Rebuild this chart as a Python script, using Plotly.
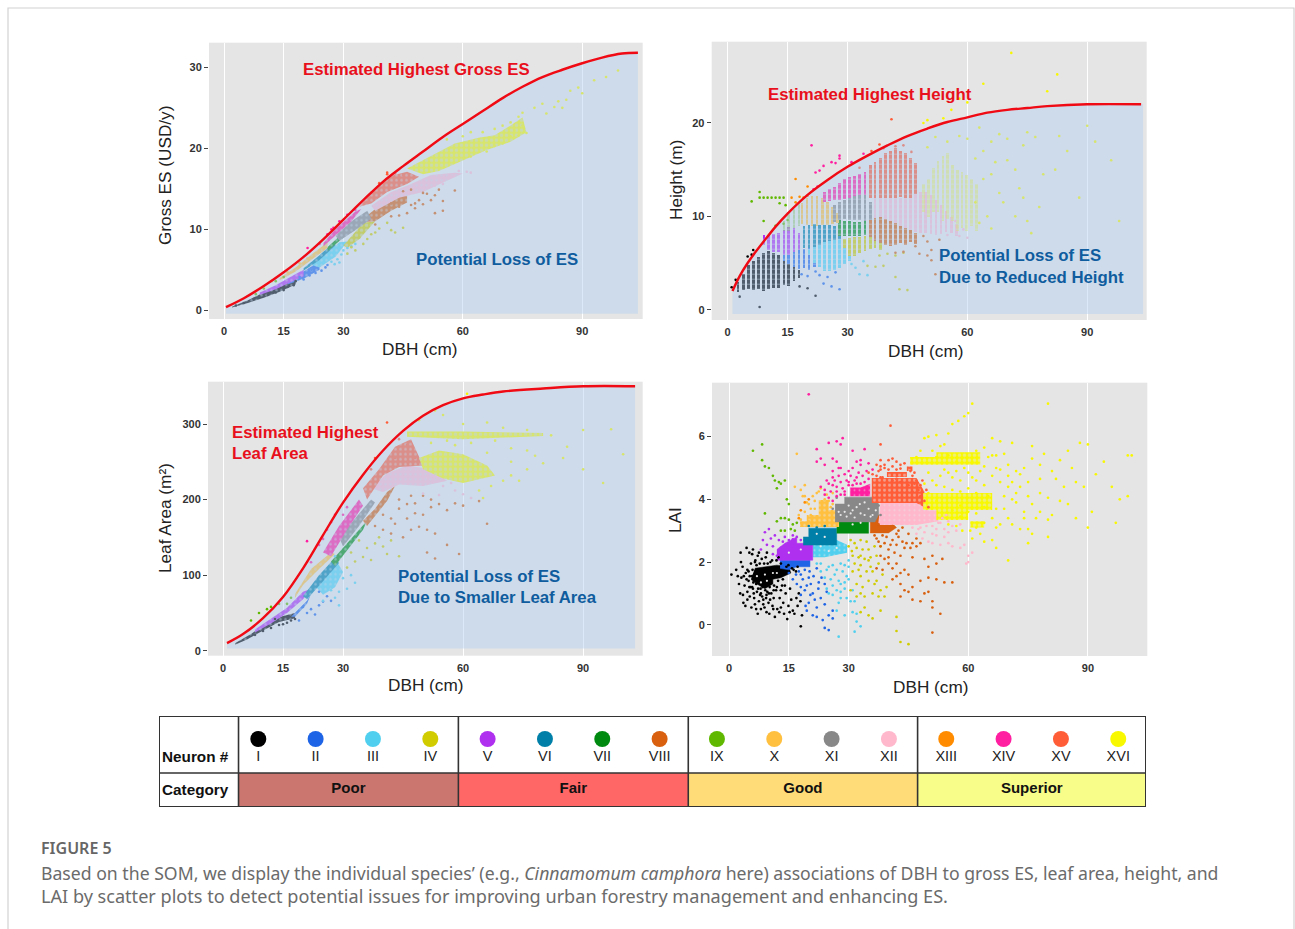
import plotly.graph_objects as go

NEURONS = ["I","II","III","IV","V","VI","VII","VIII","IX","X","XI","XII","XIII","XIV","XV","XVI"]
NEURON_COLORS = ["#000000","#1e64e6","#50d0ee","#d0cc00","#b030f0","#0080a8","#008a10","#d8600f",
                 "#60b800","#ffc040","#888888","#ffb8cc","#ff8c00","#ff1fa0","#ff5c38","#f8f800"]
CATEGORIES = ["Poor","Fair","Good","Superior"]
CATEGORY_COLORS = ["#cb7770","#ff6666","#ffdc78","#f8fc88"]
DBH_TICKS = [0,15,30,60,90]

# ---------- highest-value curves ----------
es_curve_x = [0.5,5,10,15,20,25,30,35,40,45,50,55,60,65,70,75,80,85,90,95,100,104]
es_curve_y = [0.4,1.5,3.0,4.7,6.6,8.8,11.2,13.6,15.9,17.8,19.6,21.4,23.0,24.6,26.2,27.6,28.8,29.7,30.5,31.2,31.7,31.8]
h_curve_x = [1.2,3,5,7,9,12,15,20,25,30,35,40,45,50,55,60,65,70,75,80,90,103.5]
h_curve_y = [2.0,3.6,5.0,6.2,7.3,8.9,10.3,12.3,13.9,15.3,16.5,17.6,18.6,19.4,20.1,20.6,21.1,21.4,21.6,21.8,22.0,22.0]
la_curve_x = [1,5,10,15,20,25,30,35,40,45,50,55,60,65,70,80,90,103]
la_curve_y = [10,22,43,71,109,153,196,233,265,291,311,325,334,339,343,347,350,350]

# ---------- Gross ES panel ----------
es_core_I = [(2,.45),(6,1.25),(10,2.2),(14,3.0),(18,4.0),(18,3.2),(14,2.3),(10,1.55),(6,.9),(2,.35)]
es_core_V = [(9,2.2),(13,3.1),(17,4.2),(20,5.0),(20,4.2),(17,3.5),(13,2.6),(9,1.9)]
es_core_II = [(16,3.7),(20,4.8),(24,6.1),(24,5.0),(20,3.9),(16,3.2)]
es_core_III = [(22,5.6),(26,7.2),(29,8.4),(31,8.5),(28,6.6),(24,5.3)]
es_core_VI = [(20,5.2),(24,6.8),(28,8.6),(28,8.0),(24,6.2),(20,4.9)]
es_core_VII = [(26,7.8),(30,9.6),(35,11.6),(35,11),(30,9),(26,7.3)]
es_core_X = [(14,4.0),(18,5.3),(22,6.9),(26,8.4),(26,7.7),(22,6.2),(18,4.8),(14,3.7)]
es_core_XI = [(28,9.2),(32,11.0),(36,12.3),(37,11.3),(33,9.9),(29,8.6)]
es_core_XIV = [(25,8.3),(28,10),(33,12.2),(34.5,12.5),(32,11),(28,9.2),(25,7.9)]
es_core_XV = [(34,12.8),(38,15),(42,16.6),(46,17.1),(49,16.5),(46,15.6),(41,14.6),(37,13.2)]
es_core_XII = [(37,12.9),(42,14.6),(47,15.6),(52,16.7),(58,17.0),(60,16.9),(56,16),(50,14.6),(44,13.9),(38,12.3)]
es_core_VIII = [(35,11.3),(38,12.5),(42,13.9),(46,14.3),(46,13.3),(42,12.3),(38,11),(35,10.9)]
es_core_XVI = [(46,17.5),(52,19),(58,20.6),(64,21.3),(68,21.6),(71,22.5),(75,23.8),(76,22),(72,20.8),(66,19.8),(60,18.5),(54,17.2),(50,16.8)]
es_core_IV = [(30,8),(35,10.8),(38,11),(34,8.8),(31,7.7)]
es_pts_I = [(3,.6),(5,.9),(7.5,1.4),(11,1.9),(13,2.2),(15,2.5),(16,2.9),(17.5,3.1),(18,3.6)]
es_pts_II = [(20,3.8),(21.5,4.3),(23,4.6),(24.5,4.9),(25.5,5.3),(26,5.6),(22,5.0),(19,4.1)]
es_pts_III = [(27,6.0),(28.5,6.3),(29.5,6.9),(31,7.7),(32,7.9),(30,7.4),(27.8,5.7),(29,5.9),(33,8.2)]
es_pts_IV = [(31,7.0),(33,7.4),(35,8.2),(36,8.8),(38,9.6),(39,10.1),(41,10.8),(42,9.9),(37,9.4),(43,9.6),(45,10.2),(32,7.8),(34,9.0)]
es_pts_VIII = [(42,11.6),(44,11.7),(46,12.0),(48,13.2),(50,13.1),(52,13.6),(53,14.2),(55,12.3),(53,12.0),(48,12.6),(51,14.4),(47,14.9),(50,14.5),(55,13.5),(54,14.9),(58,14.8),(42,13.2),(44,12.8),(49,13.6),(47,13.0),(45,14.7),(40,12.0),(38,10.6)]
es_pts_XII = [(50,16.0),(54,16.6),(57,16.6),(59,17.2),(61,17.1),(62,17.0),(55,15.6),(53,15.4),(48,15.1)]
es_pts_XIV = [(21,7.7),(24,8.2),(26,9.4),(27,10),(27.5,10.2),(29,11),(31,11.8),(33,12.4)]
es_pts_XV = [(41,16.8),(41,17),(43,16.9),(45,16.7),(39,15.7),(37,14.5),(36,13.4)]
es_pts_XVI = [(56,21.1),(60,21.5),(62,22),(65,22),(68,22.4),(70,22.8),(72,23.2),(73,22.2),(74,23.9),(75,24.4),(75,22.8),(74,21.6),(72,21.5),(76,21.9),
              (70,20.6),(68,20.3),(66,19.6),(62,19.0),(78,25),(80,25.5),(81,24.3),(83,25.1),(84,25.8),(85,25),(86,26),(87,27.1),(89,27.5),(90,26.8),(93,28.4),(96,28.8),(99,29.6)]
es_pts_X = [(12,3.6),(16,4.7),(19,5.8),(21,6.4),(24,7.4),(10,2.9)]
es_pts_IX = [(8,2.0),(10,2.7),(13,3.6),(15,4.1)]

# ---------- Height panel: DBH columns with low / high height ----------
h_x_I = [2.5,3.8,5.1,6.4,7.6,8.9,10.2,11.4,12.7,14,15.2,16.5,17.8]
h_lo_I = [1.9,2.1,2.2,2.1,2.2,2.0,2.3,2.4,2.4,2.7,2.6,3.1,3.4]
h_hi_I = [3.0,3.9,4.8,5.3,5.7,6.1,6.3,6.1,5.9,5.7,5.3,5.0,4.3]
h_x_II = [14,15.2,16.5,17.8,19,20.3,21.6,22.9]
h_lo_II = [5.2,4.9,4.6,4.4,4.5,4.3,4.6,4.9]
h_hi_II = [5.9,6.0,6.3,6.4,6.5,6.6,6.4,6.0]
h_x_III = [20.3,21.6,22.9,24.1,25.4,26.7,27.9,29.2,30.5]
h_lo_III = [5.9,5.0,4.6,4.2,4.2,4.3,4.5,4.9,5.2]
h_hi_III = [6.5,6.7,7,7.3,7.4,7.5,7.6,7.3,6.8]
h_x_IV = [29.2,30.5,31.7,33,34.3,35.6,36.8,38.1]
h_lo_IV = [6.6,5.8,5.8,6.1,6.3,6.5,6.6,6.4]
h_hi_IV = [7.6,7.7,7.8,7.8,7.9,8,7.4,7.2]
h_x_V = [9,10.2,11.4,12.7,14,15.2,16.5,17.8,19,20.3]
h_lo_V = [7,6.4,6.2,6.2,5.9,5.9,6.2,6.4,6.6,6.7]
h_hi_V = [8,8,8.1,8.3,8.6,8.9,8.8,8.3,7.8,7.2]
h_x_VI = [19,20.3,21.6,22.9,24.1,25.4,26.7,27.9]
h_lo_VI = [6.6,6.6,6.7,7.0,7.3,7.4,7.5,7.6]
h_hi_VI = [9,9.1,9.2,9.1,9.1,9.1,9,9]
h_x_VII = [27.9,29.2,30.5,31.7,33,34.3]
h_lo_VII = [7.9,7.9,7.9,7.9,7.9,8.0]
h_hi_VII = [9.6,9.5,9.5,9.4,9.4,9.6]
h_x_VIII = [35.6,36.8,38.1,39.4,40.6,41.9,43.2,44.4,45.7,47]
h_lo_VIII = [7.8,7.4,7.2,7,6.9,7,7.2,7,7.3,7.1]
h_hi_VIII = [9.7,10,10.1,9.9,9.6,9.3,9,8.8,8.6,8.3]
h_x_IX = [14,15.2,16.5,17.8]
h_lo_IX = [8.5,8.5,8.8,9.0]
h_hi_IX = [9.5,10.5,10.8,11.5]
h_x_X = [18.5,19.8,21,22.3,23.6,24.9,26.1,27.4]
h_lo_X = [9.2,9.1,9,9,9.1,9.1,9.2,9.3]
h_hi_X = [11.5,12,12.2,12.2,12,11.6,11,10.4]
h_x_XI = [26.7,27.9,29.2,30.5,31.7,33,34.3,35.6]
h_lo_XI = [9.4,9.6,9.7,9.6,9.6,9.6,9.5,9.6]
h_hi_XI = [11.3,11.6,11.8,12,12.2,12.3,12.3,11.6]
h_x_XII = [36.8,38.1,39.4,40.6,41.9,43.2,44.4,45.7,47,48.2,49.5,50.8,52.1,53.3,54.6,55.9,57.2]
h_lo_XII = [9.9,10,9.8,9.5,9.3,9,8.8,8.6,8.4,8.3,8.3,8.1,8,8.1,8.4,8.3,7.9]
h_hi_XII = [12,12,12,12,12,12,12,12,12.4,12.6,12.6,12.3,11.8,11.2,10.6,10,9.2]
h_x_XIV = [24.1,25.4,26.7,27.9,29.2,30.5,31.7,33,34.3,35.6]
h_lo_XIV = [11.6,11.7,11.8,11.8,11.9,12,12.2,12.3,12.3,12.3]
h_hi_XIV = [12.6,13,13.2,13.6,14,14.2,14.4,14.6,14.8,15]
h_x_XV = [35.6,36.8,38.1,39.4,40.6,41.9,43.2,44.4,45.7,47]
h_lo_XV = [12,12,12,12,12,12,12.1,12,12,12.4]
h_hi_XV = [15.5,15.8,16.3,16.8,17,17.3,17,16.8,16.3,15.7]
h_x_XVI = [49,50.2,51.4,52.6,53.8,55,56.2,57.4,58.6,59.8,61,62.2]
h_lo_XVI = [10.5,10,10.5,10.5,9.5,9.8,9.5,8.5,8.8,8.5,9,8.5]
h_hi_XVI = [13.5,14,15.2,16,16.5,16.8,15.5,15,14.8,14.5,14,13.5]
h_pts_I = [(1,2.4),(2,3.2),(5,5.7),(6,5.9),(8,0.3),(22,1.5),(20,2.3),(18,2.5),(3,1.4),(4,2.3),(6.4,6.4)]
h_pts_II = [(24,2.8),(26,2.5),(28,2.2),(25,3.5),(20,3.6),(23,3.7),(27,4),(18.5,3.8),(22,4.1)]
h_pts_III = [(33,3.8),(35,3.7),(32,4.5),(31,4.9),(34,5.2)]
h_pts_IV = [(35,4.7),(37,4.6),(39,4.7),(42,5.8),(44,6.1),(42,3.5),(43,2.2),(45,2.1),(40,6),(38,5.8)]
h_pts_VIII = [(48,6),(50,5.8),(51,5.3),(52,3.8),(50,7.3),(53,7.5),(47,6.8),(42,6.1),(49,7.9),(44,6.2),(51,6.4)]
h_pts_IX = [(6,11.6),(8,12.6),(8,12),(9,12),(10,12),(11,12),(12,12),(13,12),(14,12),(13,11.4),(14.5,11.2),(9,9.5),(12,9),(14,9.2),(15,9.6)]
h_pts_XII = [(60,7.7),(58,7.9),(55,8),(59,8.6),(57,9.5)]
h_pts_XIII = [(17,14),(20,13.2),(16,12),(17,11.5),(18,12.1),(19,12),(20,12.2)]
h_pts_XIV = [(21,17.6),(22,14.7),(23,14.9),(24,15.4),(26,15.8),(27,15.7),(28,16.5),(28,16.2),(31,15.8),(34,16.7),(22.5,13.2),(21.5,12.9)]
h_pts_XV = [(41,20.4),(38,17.7),(36,17),(33,15.2),(39,17.3),(42,17.5),(44,17.6),(46,16.9)]
h_pts_XVI = [(71,27.5),(82.5,25.2),(80,23.4),(64,24.2),(58,22.6),(60,22.2),(56,21.4),(54,20.5),(49,20),(50,20.3),(63,19.5),(68,18.8),(75,19),(77,18.5),(83,18.6),(90,19.7),(92,18),
             (60,18.3),(64,17),(70,16),(72,15),(66,14.5),(62,11.5),(65,10),(72,10),(75,9.5),(76,8.2),(78,11),(82,15),(85,17),(88,12),(96,16),(98,9.5),(68,12.5),(73,13),
             (52,18.5),(55,18),(58,18.6),(66,18),(70,18.3),(74,17.6),(50,17.4),(62,16.2),(67,15.8),(64,14),(69,11.5),(63,9.3),(66,8.7),(74,12),(79,14.5)]

# ---------- Leaf area panel ----------
la_core_I = [(3,10),(7,22),(11,37),(15,46),(18,50),(18,43),(14,38),(10,27),(6,15),(3,8)]
la_core_V = [(8,28),(12,42),(16,57),(20,78),(22,82),(20,68),(16,50),(12,36),(8,24)]
la_core_II = [(17,45),(21,66),(22,75),(21,62),(18,45)]
la_core_X = [(18,75),(22,108),(27,130),(28,128),(24,108),(20,87),(18,70)]
la_core_VI = [(20,72),(24,100),(28,123),(29,116),(25,92),(21,68)]
la_core_III = [(23,86),(26,110),(28,122),(30,104),(28,84),(25,74)]
la_core_VII = [(27,118),(31,142),(36,172),(35,160),(31,132),(28,112)]
la_core_XI = [(29,150),(33,175),(37,200),(38,196),(34,165),(30,138)]
la_core_XIV = [(25,130),(29,165),(34,200),(35,192),(31,160),(27,125)]
la_core_VIII = [(35,172),(38,188),(41,210),(43,218),(41,198),(38,178),(36,165)]
la_core_XV = [(35,215),(39,240),(43,270),(47,280),(50,245),(44,243),(40,232),(36,200)]
la_core_XII = [(37,215),(41,235),(46,245),(52,240),(56,225),(50,218),(44,220),(40,210)]
la_core_XVI = [(46,290),(60,290),(80,288),(80,284),(60,280),(46,283),(None,None),(49,255),(54,265),(60,260),(66,245),(68,232),(60,222),(55,228),(50,240)]
la_pts_I = [(8,21),(10,26),(12,30),(14,34),(16,37),(18,42),(17,40),(13,42),(15,35)]
la_pts_II = [(19,40),(21,50),(22,55),(24,60),(25,65),(23,48),(26,72),(27,66),(20,58),(24,78)]
la_pts_III = [(25,66),(27,80),(29,78),(31,82),(33,90),(30,96),(32,100),(28,70),(29,60),(28,125)]
la_pts_IV = [(31,110),(33,118),(35,124),(36,136),(38,142),(39,150),(41,128),(44,125),(42,146),(40,138),(37,120),(32,130),(34,146)]
la_pts_VIII = [(40,180),(42,175),(44,188),(46,194),(48,195),(50,180),(52,190),(54,194),(56,186),(58,195),(60,192),(49,164),(51,160),(53,155),(51,130),(56,140),(59,128),(45,150),(43,168),(47,160),(53,122),(64,198),(66,168),(38,165),(40,160),(42,155),(44,200),(47,205),(50,205),(52,200),(46,175),(48,182)]
la_pts_IX = [(7,40),(9,50),(11,55),(12,58),(14,62),(16,62),(17,70)]
la_pts_XII = [(55,218),(58,212),(60,207),(62,202),(54,206),(50,208),(57,222)]
la_pts_XIV = [(21,145),(22,117),(24,140),(25,148),(27,170),(28,180),(30,180),(31,190),(26,160)]
la_pts_XV = [(41,302),(38,255),(37,240),(44,280),(46,272),(43,255),(48,255)]
la_pts_XVI = [(61,340),(53,318),(49,305),(55,312),(60,300),(66,302),(70,295),(76,292),(82,285),(90,292),(97,293),(85,255),(80,248),(76,240),(72,232),(70,225),(64,212),(65,202),
              (76,265),(78,258),(86,270),(90,240),(95,222),(100,260),(72,268),(68,278),(62,275),(58,272),(52,275),(56,278),(66,262),(72,250),(60,248),(74,225),(67,218)]

# ---------- LAI panel ----------
lai_core_I = [(5.5,1.45),(7,1.3),(9,1.15),(11,1.3),(11,1.45),(13,1.5),(15.5,1.65),(15,1.85),(12,1.9),(9,1.85),(6.5,1.8)]
lai_core_II = [(12.8,1.8),(15,1.75),(17,1.85),(20.3,1.85),(20.3,2.06),(12.8,2.06)]
lai_core_III = [(21,2.15),(24,2.15),(29.6,2.3),(29.6,2.55),(27,2.7),(21,2.7)]
lai_core_V = [(12,2.06),(21,2.06),(21,2.6),(17,2.6),(17,2.8),(14,2.6),(12,2.4)]
lai_core_VI = [(18.6,2.54),(27,2.54),(27,3.08),(20,3.08),(20,2.8),(18.6,2.8)]
lai_core_VII = [(27,2.92),(35,2.92),(35,3.3),(27,3.3)]
lai_core_VIII = [(35.4,2.93),(40,2.93),(42,3.1),(40,3.35),(38,3.5),(35.4,3.5)]
lai_core_X = [(17.8,3.12),(27.6,3.12),(27.6,3.66),(25,3.66),(25,3.98),(22.5,3.98),(22.5,3.5),(19.5,3.5),(19.5,3.3),(17.8,3.3)]
lai_core_XI = [(26.6,3.28),(36.6,3.28),(37.5,3.5),(37.5,3.85),(36.6,4.07),(29,4.07),(29,3.85),(26.6,3.85)]
lai_core_XII = [(37.4,3.18),(47,3.18),(52.5,3.3),(52.5,3.65),(49.7,3.65),(49.7,3.9),(38,3.9)]
lai_core_XIV = [(30.4,4.1),(35.4,4.1),(35.4,4.5),(33,4.38),(30.4,4.38)]
lai_core_XV = [(35.8,3.88),(47,3.88),(49,3.75),(49,4.25),(47,4.68),(35.8,4.68),(None,None),(39.6,4.71),(44.6,4.71),(44.6,4.87),(39.6,4.87),(None,None),(44.6,4.9),(46,4.9),(46,5.05),(44.6,5.05)]
lai_core_XVI = [(45.4,5.1),(63,5.1),(63,5.5),(52,5.5),(52,5.35),(45.4,5.35),(None,None),(48.7,3.66),(66,3.66),(66,4.2),(48.7,4.2),(None,None),(52,3.34),(60,3.34),(60,3.66),(52,3.66),(None,None),(60.5,3.1),(64,3.1),(64,3.3),(60.5,3.3)]
lai_pts_I = [(0.6,1.6),(1.8,1.75),(2.5,1.3),(2.8,1.0),(3.1,1.5),(3.4,1.85),(3.5,.95),(3.9,1.25),(4.2,1.65),(4.4,2.45),(4.6,1.05),(4.9,1.4),(5.1,2.3),(5.2,.9),(5.5,1.95),(5.6,.55),(5.8,1.2),(6.0,2.4),(6.2,1.0),(6.3,.85),
             (6.6,2.05),(6.8,.5),(7.0,1.05),(7.2,2.2),(7.5,.75),(7.8,.95),(8.0,.5),(8.2,2.1),(8.3,.9),(8.6,.65),(8.9,.55),(9.2,2.15),(9.3,.85),(9.6,1.05),(9.9,.7),(10.1,.35),(10.4,2.0),(10.6,1.0),(10.9,.6),(11.2,.85),
             (11.5,.25),(11.8,1.1),(12.1,.5),(12.4,2.15),(12.7,.85),(13.0,.55),(13.3,1.25),(13.6,.7),(14.2,1.0),(14.6,.18),(14.9,.6),(15.3,1.15),(15.6,.8),(16,.45),(16.4,.35),(16.9,.85),(17.2,.6),(18,-.05),(18.3,.3),
             (14,1.25),(13,1.1),(11.2,1.1),(9.4,.95),(7.9,1.15),(6.8,1.3),(4.9,1.7),(5.8,1.55),(4.4,1.45),(3.7,1.55),(6,1.15),(8,1.0),(10,1.0),(12,1.2),
             (4.6,1.75),(5.2,1.55),(5.4,1.2),(5.9,1.75),(6.1,1.35),(6.5,2.0),(6.9,1.9),(7.3,1.15),(7.7,1.95),(8.4,1.2),(8.8,1.95),(9.1,1.1),(9.7,1.95),(10.2,1.2),(10.8,2.05),(11.3,1.25),(11.9,2.05),(12.3,1.4),(13.0,1.95),(13.5,1.45),(14.4,1.85),(14.9,1.9),(15.8,1.8),(16.2,1.75),(16.8,1.7),(17.2,1.85),
             (3,2.0),(2.2,1.55),(3.6,.7),(4.1,.6),(4.6,.8),(5.1,1.2),(6.5,.65),(7.2,.35),(8.6,.8),(9.4,.4),(10.3,.8),(11.1,.5),(12.6,.4),(13.8,.35),(15.2,.4),(17.5,1.0),(17.9,.75),(2.9,2.3),(5.8,2.25),(7.5,2.3),(9.5,2.3)]
lai_pts_II = [(15,1.65),(16,1.45),(17,1.3),(18,1.2),(19,1.1),(20,1.5),(20.5,1.3),(21,1.0),(21.5,.8),(20,.7),(19.5,.45),(21,.3),(22,.55),(23,.85),(24,.65),(24.5,1.05),(25,.3),(26,.2),(23.5,.15),(24,-.1),(25,-.17),(26,.45),(22.5,1.35),(19,1.75),(18,1.6),
              (17.5,1.7),(18.5,1.45),(19.5,1.25),(20.2,1.7),(21.2,1.55),(22,1.8),(22.4,1.15),(23.2,1.5),(24,1.3),(18,.95),(20.4,.95),(22,.25),(16.8,1.6),(19.2,.6)]
lai_pts_III = [(22,1.95),(23,1.7),(24,1.5),(25,1.85),(26,1.25),(26.5,1.6),(27,1.1),(27.5,.7),(28,1.3),(29,1.15),(29.5,1.55),(30,1.45),(30.5,.75),(31,.4),(32,.1),(33,-.05),(32,.35),(29,.3),(27.5,-.38),(31.5,-.22),(26,1.9),(28,1.95),(24.5,1.15),
               (23,1.95),(24.5,1.75),(25.5,1.45),(27,1.75),(27.5,1.4),(28.5,1.7),(29,1.9),(30,1.85),(25,1.0),(26,.95),(27,.45),(28,.85),(29.5,.85),(31,1.1),(31.5,.75),(29,1.35),(30,2.05),(28,1.05)]
lai_pts_IV = [(30,2.5),(31,2.2),(32,2.45),(33,1.9),(34,2.1),(35,2.4),(36,1.7),(37,1.4),(31,1.7),(32,1.3),(33,1.55),(34,.9),(35,1.4),(36,1.0),(38,1.1),(39,.9),(33,.4),(35,.3),(36,.2),(38,.45),(42,.25),(42,-.2),(43,-.55),(45,-.62),(37,2.2),(38,2.5),(33,2.7),(30.5,1.1),
              (30.5,2.7),(31.5,2.6),(32.5,2.15),(33.5,2.4),(34.5,2.65),(35.5,2.15),(36.5,2.5),(37.5,1.95),(31.5,1.95),(32.5,1.75),(33.5,1.2),(34.5,1.7),(35.5,1.85),(36.5,1.3),(32,.9),(33,1.0),(37.5,.9),(39.5,1.2),(38.5,1.6),(34,.55),(30.8,2.35),(35,2.05),(33,2.2)]
lai_pts_V = [(8,2.4),(8.5,2.7),(9,2.95),(9.5,2.55),(10,3.05),(11,2.5),(11.5,2.85),(12,2.2),(12.5,2.7),(13,2.45),(14,2.8),(15,2.7),(16,2.85),(10.5,2.75),(17,2.8),(18,2.7),(13.5,2.65),(16,2.72),(11,2.25)]
lai_pts_VI = [(20,3.15),(22,3.1),(24,3.15),(19,2.7)]
lai_pts_VIII = [(37,2.75),(38,2.5),(39,2.6),(40,2.4),(41,2.7),(42,2.55),(43,2.2),(44,2.45),(45,2.9),(46,2.6),(47,2.5),(40,1.95),(41,1.8),(42,1.55),(43,1.3),(44,1.1),(45,1.05),(43,.9),(46,.8),(48,.75),(49,1.0),(50,1.05),(51,.75),(51,.55),(53,.35),(51,-.25),
              (48,1.4),(50,1.5),(52,1.45),(54,1.35),(56,1.35),(51,2.2),(52,1.95),(53.5,2.1),(50,1.85),(49,2.1),(37,1.8),(39,2.1),(38.5,1.75),(46,2.15),(44,1.75),(37.5,3.2),(42,2.9),
              (36.5,2.85),(37.5,2.65),(38.5,2.85),(39.5,2.8),(40.5,2.55),(41.5,2.3),(42.5,2.8),(43.5,2.65),(44.5,2.6),(45.5,2.45),(47,2.75),(48,2.6),(38,2.2),(40,2.15),(42,1.95),(43,1.65),(45,1.6),(41,1.45),(46,1.2),(42.5,3.0),(43.5,3.1),(41,3.15)]
lai_pts_IX = [(6,5.55),(8.3,5.75),(8.3,5.25),(9,5.05),(10,5.0),(11,4.75),(11.5,4.6),(12,4.35),(12.5,4.55),(13,4.5),(14,4.6),(14.5,4.0),(15,3.85),(9,3.55),(12,3.3),(13,3.4),(14,3.4),(15,3.35),(16,3.2),(16.5,3.0),(14,3.0),(15.5,3.05),(17,3.25),(13,3.0)]
lai_pts_X = [(17,5.45),(16.5,4.4),(18,4.3),(18.5,4.1),(19,4.45),(19,4.1),(19.5,3.9),(20,3.85),(20.5,3.5),(19,3.6),(21,4.1),(21.5,3.7),(22,4.2),(22.5,4.25),(23,4.35),(24,4.0),(24.5,4.15),(25,3.95),(26,4.2),(20,3.3),(20.5,3.7),(21.5,3.95),(18,3.35),(17.5,3.5),(26,3.85),(25.5,3.75)]
lai_pts_XI = [(37.5,3.8),(26,3.7),(27,4.05),(38,3.5)]
lai_pts_XII = [(48,3.1),(49,2.95),(50,2.65),(51,3.15),(52,2.85),(53,2.55),(54,3.05),(55,2.6),(56,2.5),(57,3.0),(58,2.45),(59,2.55),(60,2.2),(60,2.0),(59.5,1.95),(61,2.3),(47,2.9),(52.5,3.25),(55,3.3),(56,3.15),(58,3.2),(50,3.3),
               (48.5,2.75),(49.5,3.15),(51,2.6),(52,3.05),(53,3.25),(54,2.8),(46,3.1),(47.5,3.05),(55,2.95),(51,2.9),(53.5,3.4),(54.5,3.5)]
lai_pts_XIII = [(19,3.9),(20,4.0),(18,3.65),(17.5,3.4)]
lai_pts_XIV = [(20,7.35),(22,5.2),(22,5.6),(23,5.3),(24,5.1),(25,5.8),(26,5.3),(26,4.9),(27,5.85),(28,5.0),(28,5.75),(28.5,5.95),(23,4.4),(24,4.3),(25,4.5),(26,4.7),(27,4.4),(27,4.25),(28,4.55),(29,4.8),(30,4.55),(31,5.0),(31,5.55),(32,4.7),(33,5.1),(33,5.25),(34,5.6),(35,4.65),(36,4.95),(35,5.15),(29,4.25),(25,4.05),(26,3.95),(34,4.55),(30,4.9),(32,5.2),(33,4.5),(27,5.2),
               (24.5,4.6),(25.5,4.25),(26.5,4.6),(27.5,4.75),(28.5,4.35),(29.5,4.6),(30.5,4.75),(31.5,4.6),(32.5,4.85),(33.5,4.75),(34.5,4.9),(28,4.15),(29,4.15),(30,4.45),(31,4.45),(32,4.5),(27,4.1),(26,4.45),(24,4.15),(27.5,5.0)]
lai_pts_XV = [(40.5,6.35),(38,5.75),(38,5.25),(38,5.05),(39,5.1),(40,5.25),(41,5.3),(42,5.2),(43,5.1),(44,5.15),(45.5,5.0),(45.5,4.9),(46,4.75),(37,4.75),(38,4.7),(38,4.95),(46.5,4.5),(47,4.6),(48,4.45),(46,4.25),(48,4.1),(49,3.95),(50,3.75),(49.5,4.3),(37,5.1),(36,4.8),(41,4.6),(43,4.55),(45,4.45),(42,4.65),(38.5,4.7),
              (39,5.0),(40,4.95),(41,5.05),(42,4.95),(43,4.98),(37.5,4.9),(47.5,4.3),(46.5,4.85),(48.5,4.6),(35,4.85)]
lai_pts_XVI = [(49,5.95),(50,6.0),(51,5.55),(52,6.05),(53,5.7),(54,5.75),(55,6.1),(56,6.4),(57.5,6.5),(59,6.65),(60,6.75),(61,7.05),(80,7.05),(64,5.65),(66,5.95),(68,5.85),(71,5.8),(76,5.7),(85,5.55),(88,5.8),(90,5.75),
              (100,5.4),(101,5.4),(92,4.8),(96,4.4),(98,4.0),(100,4.1),(90,3.1),(91,3.6),(97,3.25),(87,4.55),(84,4.4),(85,3.85),(87,3.4),(80,3.35),(82,4.65),(78,4.2),(76,3.85),(74,3.6),(71,4.0),(70,3.4),(74,3.4),(67,3.7),(67,3.1),(68,3.2),
              (64,2.65),(63,2.9),(66,2.7),(60.5,3.0),(61,2.75),(67,2.45),(70,2.05),(75,2.6),(76,2.9),(75,3.05),(80,2.8),(72,3.9),(65,4.1),(63,4.9),(64,4.45),(65,5.35),(67,5.4),(69,5.45),(70,5.1),(72,4.9),(74,5.0),(78,5.1),(83,5.25),(59,5.0),(61,4.7),(57,4.9),(55,4.85),(53,4.75),(51,4.6),
              (49,4.5),(50,4.2),(52,3.95),(54,4.4),(56,4.3),(58,4.6),(60,4.35),(62,4.2),(64,3.75),(58,3.8),(62,3.55),(64,3.25),(66,3.4),(56,3.65),(70,4.75),(73,4.4),(68,4.55),(69,4.1),(75,4.1),(78,4.65),(80,4.05),(77,3.4),(83,3.95),(81,3.5),(58,3.45),(47,5.35),(48,5.55),(52,5.35),(55,5.4),(57,5.2),(61,5.2),(62,5.55),(66,5.4),
              (50,4.85),(52,4.45),(54,4.95),(56,4.7),(58,4.25),(60,4.85),(62,4.6),(64,5.05),(66,4.75),(67,5.0),(68,4.95),(70,4.4),(71,4.55),(72,4.2),(73,4.8),(75,4.55),(76,5.3),(79,5.45),(81,4.9),(86,5.0),(89,4.4),(94,5.2),(57,3.15),(58.5,3.0),(55,3.2),(60,3.6),(62,3.1),(69,3.7),(71,3.2),(73,3.05),(78,3.6)]
lai_gaps = [(7,1.55),(9,1.6),(9.5,1.4),(11,1.65),(12,1.65),(8,1.35),(29,3.6),(31,3.65),(33,3.55),(35,3.7),(30,3.8),(32,3.75),(34,3.9),(36,3.5),(28,3.5),(27.5,3.6),(29.5,3.45),(31.5,3.42),(32.8,3.85),(35.5,3.45),(36.8,3.65),(34,3.5),(30.5,3.55),
            (31,3.2),(33,3.25),(24,2.8),(22,2.9),(15,2.3),(18,2.4),(25,2.35),(27,2.45),(23,2.5)]

# ---------- table ----------
NEURON_SLOTS = list(range(16))
CATEGORY_BOUNDS = [-0.345,3.49,7.5,11.5,15.484]
W, H = 1295, 929
def fx(p): return p/W
def fy(p): return 1-p/H
def unzip(pairs):
    return [p[0] for p in pairs],[p[1] for p in pairs]

fig = go.Figure()
OVERLAY = "rgba(175,207,240,0.45)"
RED, BLUE = "#e8101c", "#0f5c9e"
LAI_SPECKLED = {"X":.2,"XII":.15,"XV":.28,"XVI":.42,"III":.15,"XIV":.12}

def add_clusters(prefix, xa, ya, msize):
    for n, c in zip(NEURONS, NEURON_COLORS):
        core = globals().get(f"{prefix}_core_{n}")
        if core:
            x, y = unzip(core)
            if prefix == "lai":
                gap, speck = LAI_SPECKLED.get(n, 0), "#e5e5e5"
            else:
                gap, speck = (.38 if n in ("XVI","IV") else .2), "#c9d6e4"
            if gap:
                fig.add_trace(go.Scatter(x=x, y=y, mode="lines", fill="toself", line=dict(width=0, color=c),
                                         fillcolor=c, fillpattern=dict(shape=".", fgcolor=speck, size=5, solidity=gap, bgcolor=c),
                                         xaxis=xa, yaxis=ya, hoverinfo="skip"))
            else:
                fig.add_trace(go.Scatter(x=x, y=y, mode="lines", fill="toself", fillcolor=c, line=dict(width=0.5, color=c),
                                         xaxis=xa, yaxis=ya, hoverinfo="skip"))
    for n, c in zip(NEURONS, NEURON_COLORS):
        pts = globals().get(f"{prefix}_pts_{n}")
        if pts:
            x, y = unzip(pts)
            fig.add_trace(go.Scatter(x=x, y=y, mode="markers", marker=dict(size=msize, color=c, line=dict(width=0)),
                                     name=n, xaxis=xa, yaxis=ya))

def add_bound(cx, cy, base, xa, ya, fill_to=None):
    fx_ = list(cx)
    fy_ = list(cy)
    if fill_to:
        fx_.append(fill_to); fy_.append(cy[-1])
    fig.add_trace(go.Scatter(x=fx_, y=[base]*len(fx_), mode="lines", line=dict(width=0), xaxis=xa, yaxis=ya, hoverinfo="skip"))
    fig.add_trace(go.Scatter(x=fx_, y=fy_, mode="lines", line=dict(width=0, shape="spline"), fill="tonexty", fillcolor=OVERLAY,
                             xaxis=xa, yaxis=ya, hoverinfo="skip"))
    fig.add_trace(go.Scatter(x=cx, y=cy, mode="lines", line=dict(color="#f00a14", width=2.4, shape="spline"), xaxis=xa, yaxis=ya))

# Panel 1
add_clusters("es", "x", "y", 2.6)
add_bound(es_curve_x, es_curve_y, -0.42, "x", "y")

# Panel 2 – columns as bars
for n, c in zip(NEURONS, NEURON_COLORS):
    cols = globals().get(f"h_x_{n}")
    if cols:
        lo, hi = globals()[f"h_lo_{n}"], globals()[f"h_hi_{n}"]
        fig.add_trace(go.Bar(x=cols, base=lo, y=[b-a for a, b in zip(lo, hi)], width=0.68,
                             marker=dict(color=c, line=dict(width=0),
                                         pattern=dict(shape="-", fgcolor="#d5dee8", bgcolor=c, size=5, solidity=0.2)),
                             opacity=0.4 if n in ("XVI","IX") else 1, xaxis="x2", yaxis="y2", name=n))
add_clusters("h", "x2", "y2", 2.6)
add_bound(h_curve_x, h_curve_y, -0.45, "x2", "y2", fill_to=104)

# Panel 3
add_clusters("la", "x3", "y3", 2.6)
add_bound(la_curve_x, la_curve_y, 3, "x3", "y3")

# Panel 4
add_clusters("lai", "x4", "y4", 2.7)
gx, gy = unzip(lai_gaps)
fig.add_trace(go.Scatter(x=gx, y=gy, mode="markers", marker=dict(size=2.2, color="#e8e8e8", line=dict(width=0)), xaxis="x4", yaxis="y4", hoverinfo="skip"))

# Table dots and labels
row_dot, row_lab, row_cat, row_sep, row_top = 68, 50, 18, 34, 91
fig.add_trace(go.Scatter(x=NEURON_SLOTS, y=[row_dot]*16, mode="markers", marker=dict(size=16, color=NEURON_COLORS, line=dict(width=0)),
                         xaxis="x5", yaxis="y5", hoverinfo="skip"))
fig.add_trace(go.Scatter(x=NEURON_SLOTS, y=[row_lab]*16, mode="text", text=NEURONS,
                         textfont=dict(family="Liberation Sans", size=14.5, color="#222222"), xaxis="x5", yaxis="y5", hoverinfo="skip"))
cat_mid = [(CATEGORY_BOUNDS[i]+CATEGORY_BOUNDS[i+1])/2 for i in range(4)]
fig.add_trace(go.Scatter(x=cat_mid, y=[row_cat]*4, mode="text", text=CATEGORIES,
                         textfont=dict(family="Liberation Sans", size=15, color="#111111", weight="bold"), xaxis="x5", yaxis="y5", hoverinfo="skip"))

# Axes
def xaxis(l, r, rng, anchor):
    return dict(domain=[fx(l), fx(r)], range=rng, anchor=anchor, tickvals=DBH_TICKS, showgrid=True, gridcolor="#ffffff", gridwidth=1.4,
                zeroline=False, ticks="outside", ticklen=2, tickcolor="rgba(0,0,0,0)",
                tickfont=dict(family="Liberation Sans", size=11, color="#333333", weight="bold"), showline=False)
def yaxis(t, b, rng, anchor, vals):
    return dict(domain=[fy(b), fy(t)], range=rng, anchor=anchor, tickvals=vals, showgrid=False, zeroline=False, ticks="outside", ticklen=4,
                tickcolor="#444444", tickfont=dict(family="Liberation Sans", size=11, color="#333333", weight="bold"), showline=False)

shapes = [dict(type="rect", xref="paper", yref="paper", x0=fx(8), x1=fx(1294), y0=-0.02, y1=fy(8), line=dict(color="#d2d2d2", width=1.2), layer="below")]
tbl = dict(xref="x5", yref="y5", layer="below")
shapes.append(dict(type="rect", x0=-1.732, x1=15.484, y0=0, y1=row_top, fillcolor="#ffffff", line=dict(width=0), **tbl))
for i in range(4):
    shapes.append(dict(type="rect", x0=CATEGORY_BOUNDS[i], x1=CATEGORY_BOUNDS[i+1], y0=0, y1=row_sep, fillcolor=CATEGORY_COLORS[i], line=dict(width=0), **tbl))
edge = dict(color="#333333", width=1.6)
shapes.append(dict(type="rect", x0=-1.732, x1=15.484, y0=0, y1=row_top, line=dict(color="#333333", width=2), xref="x5", yref="y5"))
shapes.append(dict(type="line", x0=-1.732, x1=15.484, y0=row_sep, y1=row_sep, line=edge, xref="x5", yref="y5"))
for b in CATEGORY_BOUNDS[:-1]:
    shapes.append(dict(type="line", x0=b, x1=b, y0=0, y1=row_top, line=edge, xref="x5", yref="y5"))

def note(text, px, py, size=16.8, color=RED, weight="bold", anchor="center", family="Liberation Sans", angle=0):
    font = dict(family=family, size=size, color=color, weight=weight)
    return dict(text=text, x=fx(px), y=fy(py), xref="paper", yref="paper", showarrow=False, xanchor=anchor, yanchor="middle", font=font, textangle=angle, borderpad=0, borderwidth=0)

DARK = "#222222"
ann = [
    note("Estimated Highest Gross ES", 303, 70, anchor="left"),
    note("Potential Loss of ES", 416, 259, color=BLUE, anchor="left"),
    note("Estimated Highest Height", 768, 94, anchor="left"),
    note("Potential Loss of ES", 939, 256, color=BLUE, anchor="left"),
    note("Due to Reduced Height", 939, 277, color=BLUE, anchor="left"),
    note("Estimated Highest", 232, 433, anchor="left"),
    note("Leaf Area", 232, 453, anchor="left"),
    note("Potential Loss of ES", 398, 576, color=BLUE, anchor="left"),
    note("Due to Smaller Leaf Area", 398, 597, color=BLUE, anchor="left"),
    note("DBH (cm)", 419.5, 349, size=17.2, color=DARK, weight="normal"),
    note("DBH (cm)", 925, 351, size=17.2, color=DARK, weight="normal"),
    note("DBH (cm)", 425, 685, size=17.2, color=DARK, weight="normal"),
    note("DBH (cm)", 930, 687, size=17.2, color=DARK, weight="normal"),
    note("Gross ES (USD/y)", 165, 176, size=17.2, color=DARK, weight="normal", angle=-90),
    note("Height (m)", 676, 180, size=17.2, color=DARK, weight="normal", angle=-90),
    note("Leaf Area (m²)", 165, 518, size=17.2, color=DARK, weight="normal", angle=-90),
    note("LAI", 675, 520, size=17.2, color=DARK, weight="normal", angle=-90),
    note("Neuron #", 162, 756, size=15.3, color="#111111", anchor="left"),
    note("Category", 162, 789, size=15.3, color="#111111", anchor="left"),
    note("FIGURE 5", 41, 848, size=16, color="#666666", weight=600, anchor="left", family="Noto Sans"),
    note("Based on the SOM, we display the individual species’ (e.g., <i>Cinnamomum camphora</i> here) associations of DBH to gross ES, leaf area, height, and",
         41, 873, size=17.65, color="#6b6b6b", weight="normal", anchor="left", family="Noto Sans"),
    note("LAI by scatter plots to detect potential issues for improving urban forestry management and enhancing ES.",
         41, 896, size=18.1, color="#6b6b6b", weight="normal", anchor="left", family="Noto Sans"),
]

fig.update_layout(
    width=W, height=H, autosize=False, margin=dict(l=0, r=0, t=0, b=0), paper_bgcolor="#ffffff", plot_bgcolor="#e5e5e5",
    showlegend=False, barmode="overlay", bargap=0,
    xaxis=xaxis(209, 642.7, [-3.77, 105.2], "y"), yaxis=yaxis(42.7, 319, [-1.07, 33.04], "x", [0,10,20,30]),
    xaxis2=xaxis(711.7, 1146.7, [-4.0, 104.9], "y2"), yaxis2=yaxis(41.7, 320, [-1.1, 28.7], "x2", [0,10,20]),
    xaxis3=xaxis(208, 642.7, [-3.75, 104.9], "y3"), yaxis3=yaxis(381.7, 655.7, [-6.6, 356], "x3", [0,100,200,300]),
    xaxis4=xaxis(712, 1147.3, [-4.27, 104.9], "y4"), yaxis4=yaxis(382.7, 656, [-0.997, 7.72], "x4", [0,2,4,6]),
    xaxis5=dict(domain=[fx(159), fx(1146)], range=[-1.732, 15.484], anchor="y5", visible=False),
    yaxis5=dict(domain=[fy(807), fy(716)], range=[0, row_top], anchor="x5", visible=False),
    shapes=shapes, annotations=ann,
)
fig.write_html("out.html", config=dict(displayModeBar=False),
               post_script="document.body.style.margin='0';document.body.style.overflow='hidden';")
